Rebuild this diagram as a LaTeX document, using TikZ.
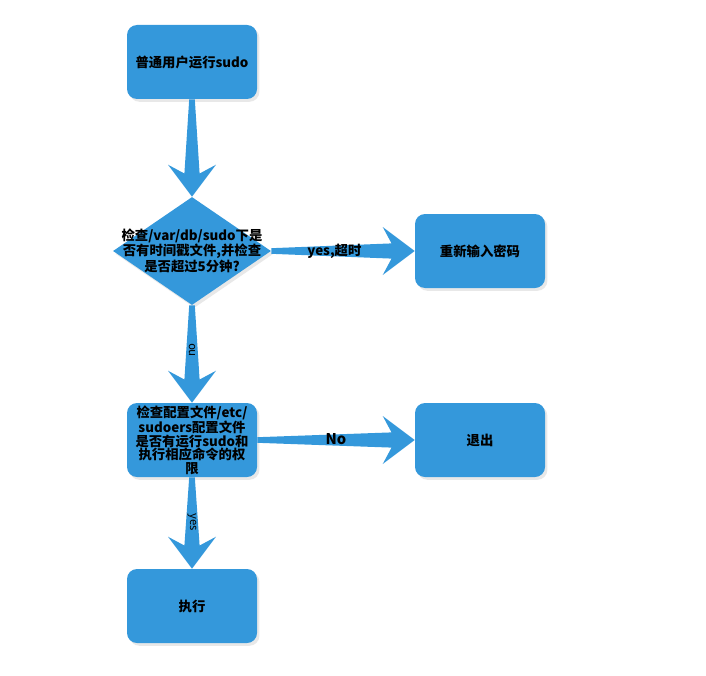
\documentclass[tikz,border=0pt]{standalone}
\usepackage{fontspec}
\setmainfont{Noto Sans CJK SC}
\usetikzlibrary{shapes.geometric,shadows,calc,positioning}
\definecolor{boxblue}{RGB}{52,152,219}
\tikzset{every node/.style={font=\bfseries\fontsize{9.5}{9.6}\selectfont},
  box/.style={rectangle,rounded corners=0.25cm,fill=boxblue,minimum width=3.25cm,minimum height=1.85cm,
    inner sep=0pt,text width=3.25cm,align=center,drop shadow={opacity=0.18,shadow xshift=0.06cm,shadow yshift=-0.07cm}},
  decide/.style={diamond,fill=boxblue,minimum width=3.95cm,minimum height=2.7cm,inner sep=0pt,
    drop shadow={opacity=0.18,shadow xshift=0.06cm,shadow yshift=-0.07cm}},
  flow/.style={fill=boxblue},
  tag/.style={font=\fontsize{8}{10}\selectfont,inner sep=1pt}}
\newcommand{\fatarrow}[2]{%
  \coordinate (hb) at ($(#2)!0.58cm!(#1)$);
  \coordinate (ho) at ($(#2)!0.8cm!(#1)$);
  \fill[flow] ($(#1)!0.07cm!90:(#2)$) -- ($(hb)!0.19cm!90:(#2)$) -- ($(ho)!0.6cm!90:(#2)$) -- (#2)
    -- ($(ho)!0.6cm!-90:(#2)$) -- ($(hb)!0.19cm!-90:(#2)$) -- ($(#1)!0.07cm!-90:(#2)$) -- cycle;}
\begin{document}
\begin{tikzpicture}
    \useasboundingbox (0,0) rectangle (17.65,16.875);
    \node[box] (start) at (4.8,15.325) {普通用户运行sudo};
    \node[decide] (check) [below of=start,node distance=4.725cm] {};
    \node[align=center] (checktext) at (check) {检查/var/db/sudo下是\\否有时间戳文件,并检查\\是否超过5分钟?};
    \node[box] (reinput) [right of=check,node distance=7.2cm] {重新输入密码};
    \node[box] (perm) [below of=check,node distance=4.725cm] {检查配置文件/etc/\\sudoers配置文件\\是否有运行sudo和\\执行相应命令的权\\限};
    \node[box] (quit) [right of=perm,node distance=7.2cm] {退出};
    \node[box] (run) [below of=perm,node distance=4.15cm] {执行};
    \fatarrow{start.south}{check.north}
    \fatarrow{check.east}{reinput.west}
    \fatarrow{check.south}{perm.north}
    \fatarrow{perm.east}{quit.west}
    \fatarrow{perm.south}{run.north}
    \node (timeout) at ($(check.east)!0.44!(reinput.west)$) {yes,超时};
    \node[font=\bfseries\fontsize{10.5}{12}\selectfont] (nolabel) at ($(perm.east)!0.5!(quit.west)+(0,0.03)$) {No};
    \node[tag,rotate=90] (notag) at ($(check.south)!0.46!(perm.north)$) {no};
    \node[tag,rotate=-90] (yestag) at ($(perm.south)!0.49!(run.north)$) {yes};
\end{tikzpicture}
\end{document}
